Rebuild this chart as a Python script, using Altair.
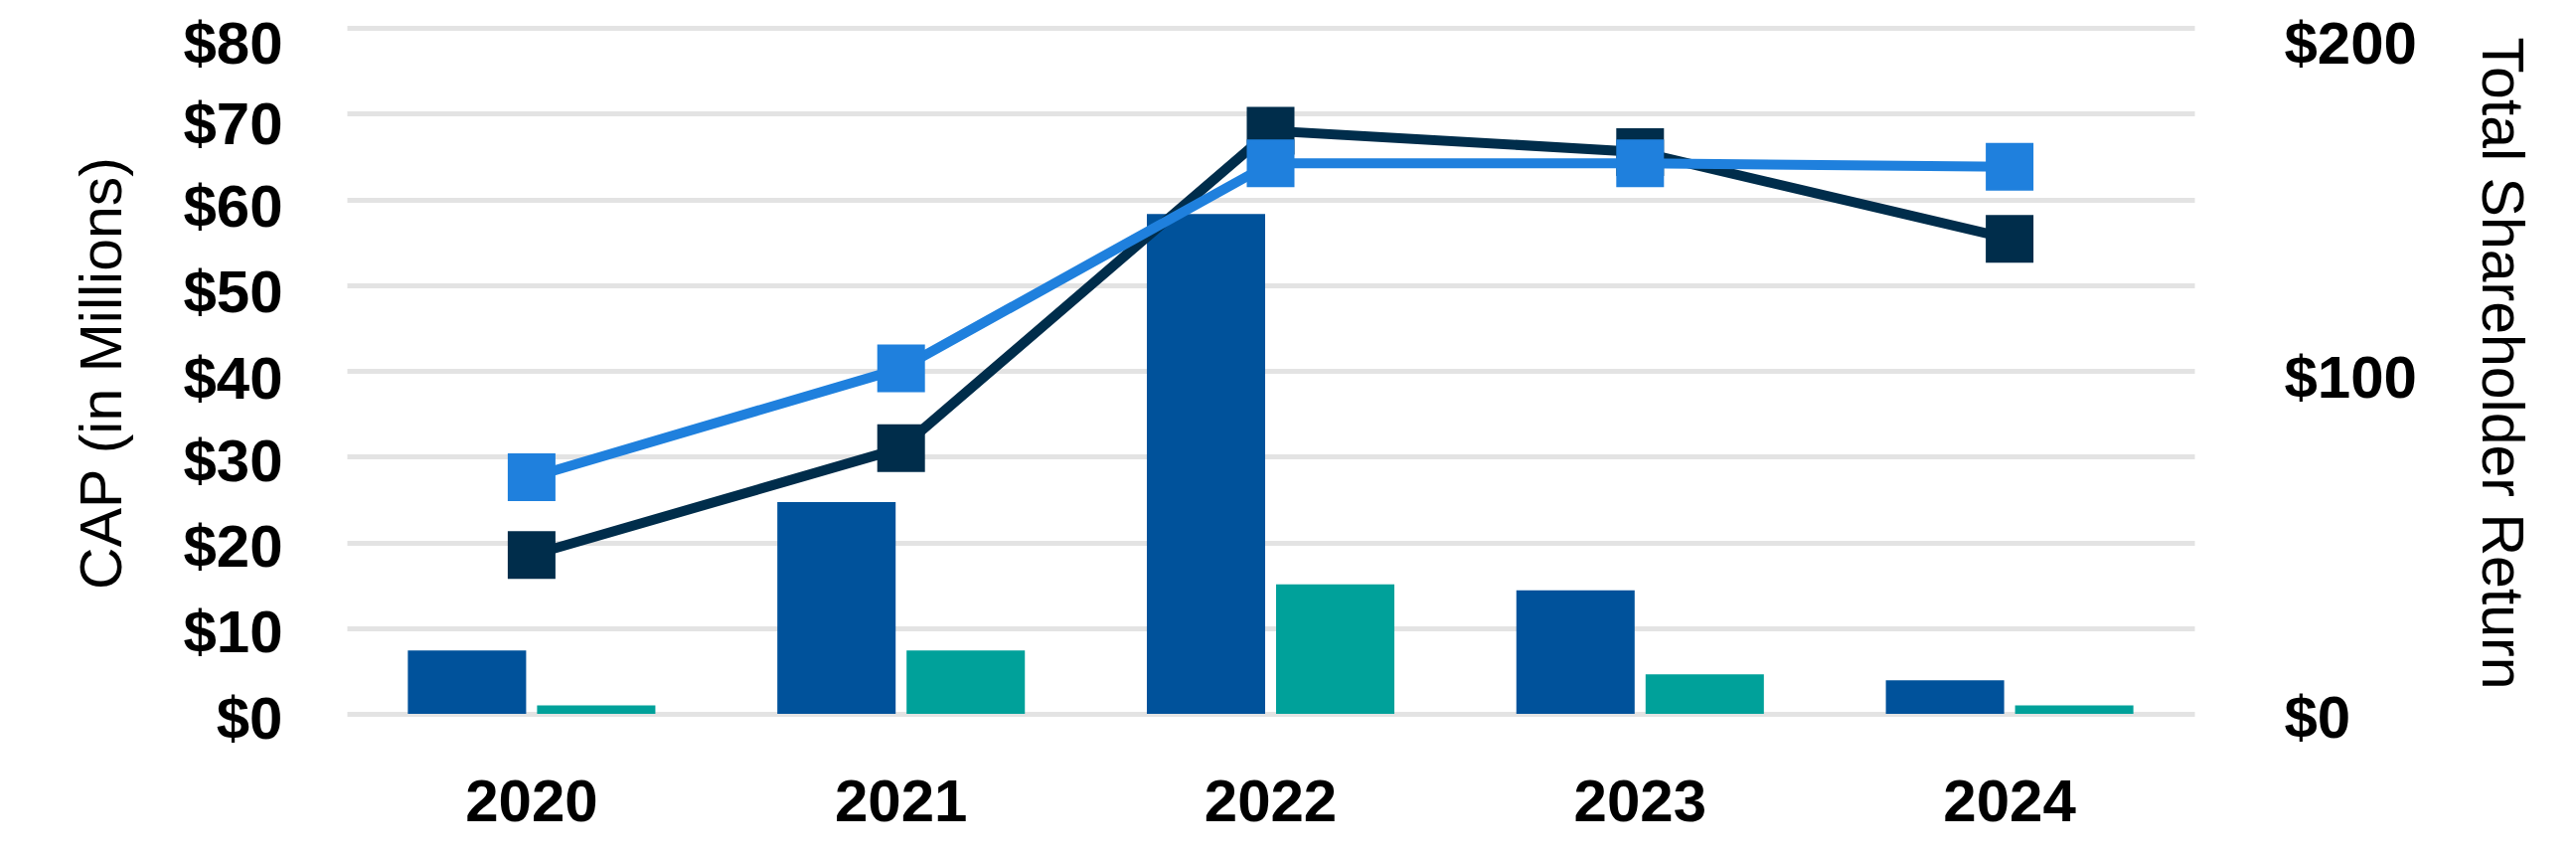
import altair as alt
import pandas as pd

years = ["2020", "2021", "2022", "2023", "2024"]
cap_a = [7.4, 24.7, 58.3, 14.4, 3.9]      # dark blue bars
cap_b = [1.0, 7.4, 15.1, 4.6, 1.0]        # teal bars
tsr_navy = [46.3, 77.5, 170.0, 163.8, 138.5]
tsr_light = [69.0, 100.7, 160.5, 160.5, 159.5]

bar_names = ["A", "B"]
bar_colors = ["#00529B", "#00A19A"]

bars_df = pd.DataFrame({
    "year": years * 2,
    "series": [bar_names[0]] * 5 + [bar_names[1]] * 5,
    "value": cap_a + cap_b,
})
navy_df = pd.DataFrame({"year": years, "tsr": tsr_navy})
light_df = pd.DataFrame({"year": years, "tsr": tsr_light})

FONT = "Liberation Sans"

x_enc = alt.X(
    "year:N",
    sort=years,
    scale=alt.Scale(paddingInner=0, paddingOuter=0),
    axis=alt.Axis(
        title=None, labelAngle=0, labelFont=FONT, labelFontSize=60,
        labelFontWeight="bold", labelColor="#000000", labelPadding=60,
        domain=False, ticks=False, grid=False,
    ),
)

left_offset = {
    "condition": [
        {"test": "datum.value >= 80", "value": 17},
        {"test": "datum.value >= 70", "value": 12},
        {"test": "datum.value >= 40", "value": 9},
    ],
    "value": 6,
}
right_offset = {
    "condition": [
        {"test": "datum.value >= 200", "value": 17},
        {"test": "datum.value >= 100", "value": 8},
    ],
    "value": 5,
}

bars = alt.Chart(bars_df).mark_bar().encode(
    x=x_enc,
    xOffset=alt.XOffset("series:N", sort=bar_names,
                        scale=alt.Scale(paddingInner=0.0846, paddingOuter=0.472)),
    y=alt.Y(
        "value:Q",
        scale=alt.Scale(domain=[0, 80], nice=False, zero=True),
        axis=alt.Axis(
            values=[0, 10, 20, 30, 40, 50, 60, 70, 80], format="$.0f",
            labelFont=FONT, labelFontSize=60, labelFontWeight="bold",
            labelColor="#000000", labelPadding=65, labelOffset=left_offset,
            labelBaseline="middle",
            domain=False, ticks=False, grid=True, gridColor="#E3E3E3", gridWidth=5,
            title="CAP (in Millions)", titleFont=FONT, titleFontSize=59,
            titleFontWeight="normal", titleColor="#000000",
            titleAngle=-90, titleBaseline="alphabetic", titleAlign="center",
            titleX=-228, titleY=347,
        ),
    ),
    color=alt.Color("series:N", sort=bar_names,
                    scale=alt.Scale(domain=bar_names, range=bar_colors), legend=None),
)

right_axis = alt.Axis(
    orient="right", values=[0, 100, 200], format="$.0f",
    labelFont=FONT, labelFontSize=60, labelFontWeight="bold",
    labelColor="#000000", labelPadding=90, labelOffset=right_offset,
    labelBaseline="middle",
    domain=False, ticks=False, grid=False,
    title="Total Shareholder Return", titleFont=FONT, titleFontSize=59,
    titleFontWeight="normal", titleColor="#000000",
    titleAngle=90, titleBaseline="alphabetic", titleAlign="center",
    titleX=289, titleY=337,
)
y_right = alt.Y("tsr:Q", scale=alt.Scale(domain=[0, 200], nice=False, zero=True), axis=right_axis)

navy_line = alt.Chart(navy_df).mark_line(color="#002D4B", strokeWidth=10).encode(x=x_enc, y=y_right)
navy_pts = alt.Chart(navy_df).mark_point(shape="square", size=2304, filled=True, opacity=1,
                                         color="#002D4B").encode(x=x_enc, y=y_right)
light_line = alt.Chart(light_df).mark_line(color="#1F80DD", strokeWidth=10).encode(x=x_enc, y=y_right)
light_pts = alt.Chart(light_df).mark_point(shape="square", size=2304, filled=True, opacity=1,
                                           color="#1F80DD").encode(x=x_enc, y=y_right)

lines = alt.layer(navy_line, navy_pts, light_line, light_pts)

chart = alt.layer(bars, lines).resolve_scale(y="independent").properties(
    width=1859,
    height=690,
    padding={"left": 341, "top": 20, "right": 370, "bottom": 136},
    autosize=alt.AutoSizeParams(type="none"),
    background="#FFFFFF",
).configure_view(stroke=None)

chart.save("out.html", embed_options={"renderer": "svg", "actions": False})
